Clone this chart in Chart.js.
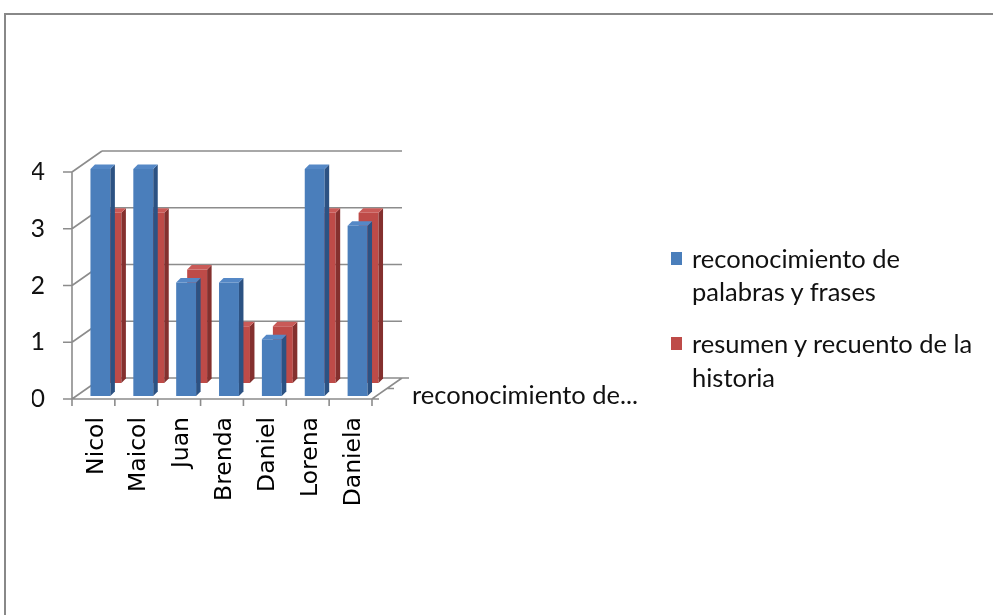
<!DOCTYPE html>
<html>
<head>
<meta charset="utf-8">
<script src="https://cdn.jsdelivr.net/npm/chart.js@4.4.1/dist/chart.umd.min.js"></script>
<style>
  body { margin: 0; background: #fff; }
  #wrap { position: relative; width: 993px; height: 615px; overflow: hidden; }
  #grafico { position: absolute; left: 0; top: 0; }
  #marco { position: absolute; left: 4px; top: 13px; width: 1200px; height: 800px;
           border-top: 2px solid #888; border-left: 2px solid #888; pointer-events: none; }
  .leyenda { position: absolute; left: 692px; font-family: Lato, sans-serif; font-size: 25.5px; color: #111; white-space: nowrap; }
  .cuadro { position: absolute; left: 671px; width: 11px; height: 13px; }
</style>
</head>
<body>
<div id="wrap">
  <canvas id="grafico" width="993" height="615"></canvas>
  <div id="marco"></div>
  <div class="cuadro" id="cuadro1" style="top:252px;"></div>
  <div class="leyenda" id="leyenda1" style="top:242px;line-height:33px;"></div>
  <div class="cuadro" id="cuadro2" style="top:337px;"></div>
  <div class="leyenda" id="leyenda2" style="top:326px;line-height:34px;"></div>
</div>
<script>
// Datos del gráfico
const categorias = ["Nicol", "Maicol", "Juan", "Brenda", "Daniel", "Lorena", "Daniela"];
const reconocimiento = [4, 4, 2, 2, 1, 4, 3];
const resumen = [3, 3, 2, 1, 1, 3, 3];
const ticksY = [0, 1, 2, 3, 4];
const nombresSerie = [["reconocimiento de", "palabras y frases"], ["resumen y recuento de la", "historia"]];
const etiquetaProfundidad = "reconocimiento de...";

// colores: frente, lado, tapa
const caras = [
  { frente: "#4a7ebb", lado: "#2c5283", tapa: "#5588c6" },
  { frente: "#be4b48", lado: "#84302e", tapa: "#c95a57" },
];

// desplazamientos de la perspectiva
const FONDO = { dx: 30, dy: -21 };
const filas = [{ dx: 7, dy: -3 }, { dx: 18, dy: -16 }];
const LADO = 4.5;

// leyenda en HTML
document.getElementById("cuadro1").style.background = caras[0].frente;
document.getElementById("cuadro2").style.background = caras[1].frente;
document.getElementById("leyenda1").innerHTML = nombresSerie[0].join("<br>");
document.getElementById("leyenda2").innerHTML = nombresSerie[1].join("<br>");

const tresD = {
  id: "tresD",
  beforeDatasetsDraw(chart) {
    const { ctx, scales: { x, y } } = chart;
    const L = x.left, R = x.right;
    const y0 = y.getPixelForValue(0), yMax = y.getPixelForValue(ticksY[ticksY.length - 1]);
    ctx.save();
    ctx.strokeStyle = "#8c8c8c";
    ctx.lineWidth = 1.6;
    ctx.beginPath();
    ticksY.forEach((v) => {
      const py = y.getPixelForValue(v);
      ctx.moveTo(L + FONDO.dx, py + FONDO.dy);
      ctx.lineTo(R + FONDO.dx, py + FONDO.dy);
      ctx.moveTo(L, py);
      ctx.lineTo(L + FONDO.dx, py + FONDO.dy);
      ctx.moveTo(L - 9, py);
      ctx.lineTo(L, py);
    });
    // eje vertical y piso
    ctx.moveTo(L, yMax);
    ctx.lineTo(L, y0);
    ctx.lineTo(R, y0);
    ctx.lineTo(R + FONDO.dx, y0 + FONDO.dy);
    // marcas del eje x
    for (let i = 0; i <= categorias.length; i++) {
      const px = x.getPixelForValue(i - 0.5);
      ctx.moveTo(px, y0);
      ctx.lineTo(px, y0 + 7);
    }
    // marcas del eje de series
    for (let k = 0; k <= 2; k++) {
      const px = R + FONDO.dx * k / 2, py = y0 + FONDO.dy * k / 2;
      ctx.moveTo(px, py);
      ctx.lineTo(px + 7, py);
    }
    ctx.stroke();
    ctx.restore();
  },
  beforeDatasetDraw(chart, args) {
    const d = filas[args.index];
    chart.ctx.save();
    chart.ctx.translate(d.dx, d.dy);
  },
  afterDatasetDraw(chart, args) {
    const ctx = chart.ctx;
    const c = caras[args.index];
    args.meta.data.forEach((bar) => {
      const { x: cx, y: top, base, width } = bar.getProps(["x", "y", "base", "width"], true);
      const l = cx - width / 2, r = cx + width / 2;
      ctx.fillStyle = c.lado;
      ctx.beginPath();
      ctx.moveTo(r, top);
      ctx.lineTo(r + LADO, top - LADO);
      ctx.lineTo(r + LADO, base - LADO);
      ctx.lineTo(r, base);
      ctx.closePath();
      ctx.fill();
      ctx.fillStyle = c.tapa;
      ctx.beginPath();
      ctx.moveTo(l, top);
      ctx.lineTo(l + LADO, top - LADO);
      ctx.lineTo(r + LADO, top - LADO);
      ctx.lineTo(r, top);
      ctx.closePath();
      ctx.fill();
    });
    ctx.restore();
  },
  afterDraw(chart) {
    const { ctx, scales: { x, y } } = chart;
    ctx.save();
    ctx.font = "25.5px Lato";
    ctx.fillStyle = "#111";
    ctx.textBaseline = "middle";
    ctx.fillText(etiquetaProfundidad, x.right + FONDO.dx + 10, y.getPixelForValue(0) - 3);
    ctx.restore();
  },
};

new Chart(document.getElementById("grafico").getContext("2d"), {
  type: "bar",
  data: {
    labels: categorias,
    datasets: [
      {
        label: nombresSerie[0].join(" "),
        data: reconocimiento,
        backgroundColor: caras[0].frente,
        order: 1,
      },
      {
        label: nombresSerie[1].join(" "),
        data: resumen,
        backgroundColor: caras[1].frente,
        order: 2,
      },
    ],
  },
  options: {
    responsive: false,
    animation: false,
    grouped: false,
    clip: false,
    categoryPercentage: 1,
    barPercentage: 0.465,
    layout: { padding: { left: 32, right: 621, top: 172, bottom: 106 } },
    plugins: {
      legend: { display: false },
      tooltip: { enabled: false },
    },
    scales: {
      x: {
        grid: { display: false, drawTicks: false },
        border: { display: false },
        ticks: {
          minRotation: 90,
          maxRotation: 90,
          padding: 18,
          labelOffset: 3,
          color: "#000",
          font: { family: "DejaVu Sans", size: 23.5 },
        },
        afterFit: (s) => { s.height = 110; },
      },
      y: {
        min: 0,
        max: 4,
        grid: { display: false, drawTicks: false },
        border: { display: false },
        ticks: {
          stepSize: 1,
          padding: 27,
          color: "#111",
          font: { family: "Lato", size: 25 },
        },
        afterFit: (s) => { s.width = 40; },
      },
    },
  },
  plugins: [tresD],
});
</script>
</body>
</html>
